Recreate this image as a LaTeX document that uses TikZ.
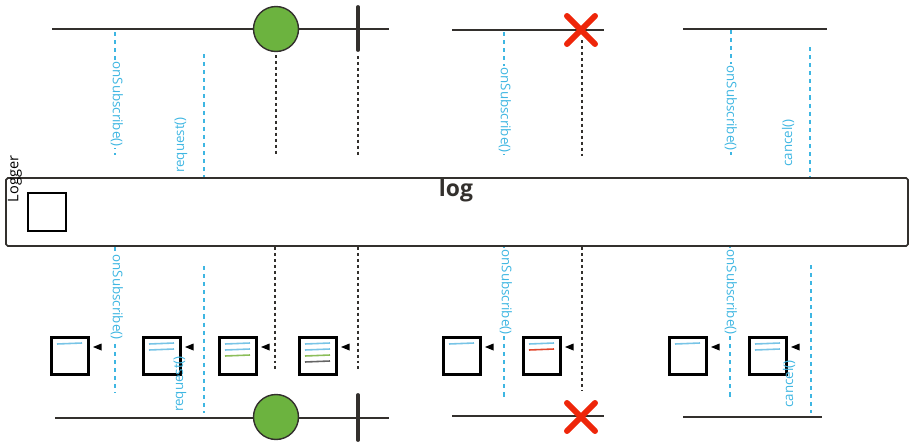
\documentclass[tikz,border=0pt]{standalone}
\usepackage{fontspec}
\setmainfont{Open Sans}
\usetikzlibrary{shapes.geometric}
\definecolor{callblue}{RGB}{62,182,226}
\definecolor{emitgreen}{RGB}{108,179,63}
\definecolor{stopred}{RGB}{238,38,10}
\definecolor{ink}{RGB}{51,48,45}
\definecolor{tintblue}{RGB}{120,196,230}
\definecolor{tintgreen}{RGB}{140,190,90}
\definecolor{tintred}{RGB}{225,70,45}
\definecolor{tintgray}{RGB}{100,100,100}
\tikzstyle{timeline} = [ink,line width=1.1pt]
\tikzstyle{call} = [callblue,line width=1.2pt,dash pattern=on 2.3pt off 2.3pt]
\tikzstyle{passon} = [ink,line width=0.9pt,dash pattern=on 1.7pt off 1.7pt]
\tikzstyle{calltext} = [callblue,font=\fontsize{7.6}{9}\selectfont,inner sep=1pt]
\tikzstyle{emit} = [circle,draw=ink,fill=emitgreen,line width=0.8pt,minimum size=0.9cm,inner sep=0pt]
\tikzstyle{item} = [draw=black,line width=1.3pt,minimum size=0.74cm,inner sep=0pt]
\tikzstyle{done} = [ink,line width=2.2pt,line cap=round]
\tikzstyle{stop} = [stopred,line width=3.4pt,line cap=round]

\begin{document}
\begin{tikzpicture}[x=0.02cm,y=-0.02cm]
\useasboundingbox (0,0) rectangle (914,447);
% upper row
\draw[timeline](52,29)--(389,29);
\draw[passon](276,55)--(276,155);
\draw[passon](358,56)--(358,155);
\node[emit](on1)at(276,29){};
\draw[done](358,7)--(358,50);
\draw[call](115,32)--(115,155);
\node[calltext,fill=white,rotate=-90](sub1)at(117,104){onSubscribe()};
\draw[call](204,54)--(204,178);
\node[calltext,rotate=90](req1)at(181,145){request()};
\begin{scope}
\draw[timeline](452,30)--(604,30);
\draw[passon](582,40)--(582,157);
\draw[stop](567,16)--(595,44)(567,44)--(595,16);
\draw[call](504,32)--(504,155);
\node[calltext,fill=white,rotate=-90](sub2)at(505,110){onSubscribe()};
\end{scope}
\begin{scope}
\draw[timeline](683,29)--(827,29);
\draw[call](731,30)--(731,155);
\node[calltext,fill=white,rotate=-90](sub3)at(731,108){onSubscribe()};
\draw[call](810,47)--(810,178);
\node[calltext,rotate=90](can1)at(788,143){cancel()};
\end{scope}
% operator box
\draw[ink,line width=1pt,rounded corners=1pt](6,178)rectangle(908,246);
\node[item,minimum size=0.76cm](logicon)at(47,212){};
\node[ink,font=\bfseries\fontsize{13}{15}\selectfont](log)at(456,191){log};
\node[rotate=90,font=\fontsize{8.3}{10}\selectfont,inner sep=0pt](logger)at(15,179){Logger};
% lower row
\draw[call](115,247)--(115,393);
\node[calltext,fill=white,rotate=-90](sub4)at(117,297){onSubscribe()};
\draw[call](204,266)--(204,413);
\draw[passon](275,247)--(275,370);
\draw[passon](358,247)--(358,371);
\draw[call](504,247)--(504,398);
\node[calltext,fill=white,rotate=-90](sub5)at(506,292){onSubscribe()};
\draw[passon](582,247)--(582,391);
\draw[call](730,247)--(730,398);
\node[calltext,fill=white,rotate=-90](sub6)at(731,292){onSubscribe()};
\draw[call](811,265)--(811,413);
\foreach \n/\x/\cols in {a/70/{tintblue},b/162/{tintblue,tintblue},c/238/{tintblue,tintblue,tintgreen},
  d/318/{tintblue,tintblue,tintgreen,tintgray},e/462/{tintblue},f/542/{tintblue,tintred},
  g/688/{tintblue},h/768/{tintblue,tintblue}}{
  \node[item](box\n)at(\x,356){};
  \fill(\x+23,347)--(\x+31.5,343.5)--(\x+31.5,350.5)--cycle;
  \foreach \c[count=\i] in \cols
    \draw[\c,line width=0.9pt](\x-13,338+6*\i)--(\x+12,337+6*\i);
}
\node[calltext,rotate=90](req2)at(180,384){request()};
\node[calltext,rotate=90](can2)at(789,384){cancel()};
\draw[timeline](55,418)--(389,418);
\node[emit](on2)at(276,417){};
\draw[done](358,395)--(358,440);
\draw[timeline](452,416)--(604,416);
\draw[stop](567,403)--(595,431)(567,431)--(595,403);
\draw[timeline](683,417)--(822,417);
\end{tikzpicture}
\end{document}
